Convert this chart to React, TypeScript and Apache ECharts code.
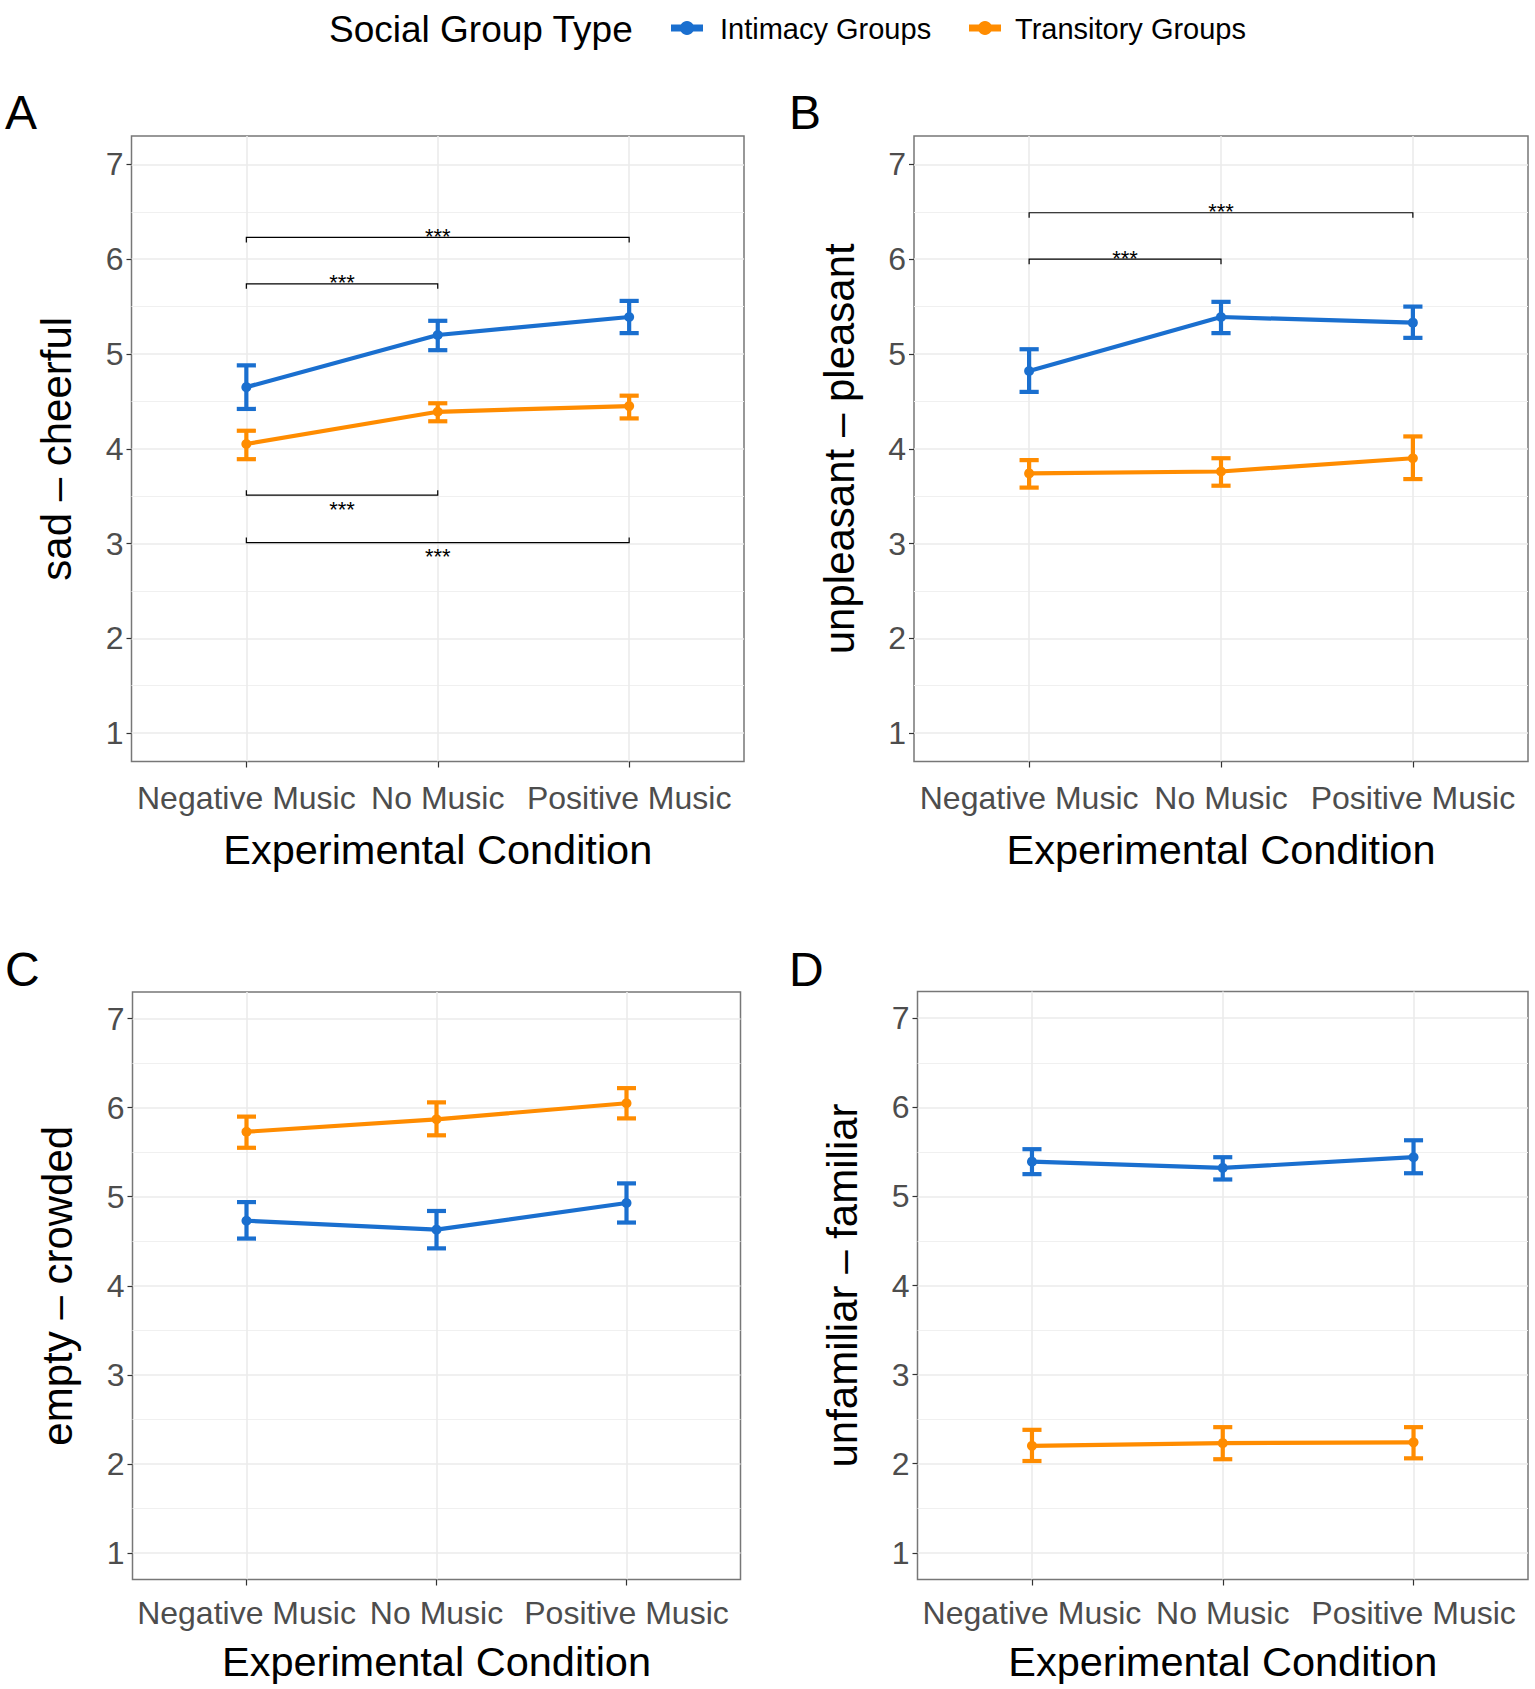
import React, { useEffect, useRef } from "react";
import * as echarts from "echarts";

// ---------- data ----------
const conditions = ["Negative Music", "No Music", "Positive Music"];
const positions = [1, 2, 3];
const yTicks = [1, 2, 3, 4, 5, 6, 7];
const yMinorTicks = [1.5, 2.5, 3.5, 4.5, 5.5, 6.5];
const groupNames = ["Intimacy Groups", "Transitory Groups"];
const panelLetters = ["A", "B", "C", "D"];
const yTitles = ["sad – cheerful", "unpleasant – pleasant", "empty – crowded", "unfamiliar – familiar"];

// Panel A
const aIntMean = [4.65, 5.2, 5.39];
const aIntLo = [4.42, 5.04, 5.22];
const aIntHi = [4.88, 5.35, 5.56];
const aTraMean = [4.05, 4.39, 4.45];
const aTraLo = [3.89, 4.29, 4.32];
const aTraHi = [4.19, 4.48, 4.56];
// [from, to, y, side]  side 1 = label above, -1 = label below
const aBrackets = [
  [1, 3, 6.23, 1],
  [1, 2, 5.74, 1],
  [1, 2, 3.51, -1],
  [1, 3, 3.01, -1],
];

// Panel B
const bIntMean = [4.82, 5.39, 5.33];
const bIntLo = [4.6, 5.22, 5.17];
const bIntHi = [5.05, 5.55, 5.5];
const bTraMean = [3.74, 3.76, 3.9];
const bTraLo = [3.59, 3.61, 3.68];
const bTraHi = [3.88, 3.9, 4.13];
const bBrackets = [
  [1, 3, 6.49, 1],
  [1, 2, 6.0, 1],
];

// Panel C
const cIntMean = [4.73, 4.63, 4.93];
const cIntLo = [4.53, 4.42, 4.71];
const cIntHi = [4.94, 4.84, 5.15];
const cTraMean = [5.73, 5.87, 6.05];
const cTraLo = [5.55, 5.69, 5.88];
const cTraHi = [5.9, 6.06, 6.22];
const cBrackets: number[][] = [];

// Panel D
const dIntMean = [5.39, 5.32, 5.44];
const dIntLo = [5.25, 5.19, 5.26];
const dIntHi = [5.53, 5.44, 5.63];
const dTraMean = [2.2, 2.23, 2.24];
const dTraLo = [2.03, 2.05, 2.06];
const dTraHi = [2.38, 2.41, 2.41];
const dBrackets: number[][] = [];

const sigLabel = "***";

const panelData = [
  { int: [aIntMean, aIntLo, aIntHi], tra: [aTraMean, aTraLo, aTraHi], brackets: aBrackets },
  { int: [bIntMean, bIntLo, bIntHi], tra: [bTraMean, bTraLo, bTraHi], brackets: bBrackets },
  { int: [cIntMean, cIntLo, cIntHi], tra: [cTraMean, cTraLo, cTraHi], brackets: cBrackets },
  { int: [dIntMean, dIntLo, dIntHi], tra: [dTraMean, dTraLo, dTraHi], brackets: dBrackets },
];

// ---------- layout / style ----------
const W = 1535;
const H = 1689;
const FONT = "'Liberation Sans', Arial, Helvetica, sans-serif";
const BLUE = "#1a6fcf";
const ORANGE = "#ff8c00";
const CAP = 0.05;

const layouts = [
  { left: 131.5, top: 136, width: 612.5, height: 625.5, labelMargin: 36, nameGap: 87.5, lx: 5, ly: 112 },
  { left: 914, top: 136, width: 614, height: 625.5, labelMargin: 36, nameGap: 87.5, lx: 789, ly: 112 },
  { left: 132.5, top: 992, width: 608, height: 587.5, labelMargin: 33, nameGap: 82, lx: 5, ly: 969 },
  { left: 917.5, top: 991.5, width: 610.5, height: 588, labelMargin: 33, nameGap: 82, lx: 789, ly: 969 },
];

function errorBarSeries(i: number, name: string, mean: number[], lo: number[], hi: number[], color: string) {
  return {
    type: "custom",
    name,
    xAxisIndex: i,
    yAxisIndex: 2 * i,
    z: 2,
    silent: true,
    data: positions.map((p, k) => [p, lo[k], hi[k]]),
    encode: { x: 0, y: [1, 2] },
    renderItem: (params: any, api: any) => {
      const x = api.value(0);
      const l = api.value(1);
      const h = api.value(2);
      const top = api.coord([x, h]);
      const bot = api.coord([x, l]);
      const xl = api.coord([x - CAP, h])[0];
      const xr = api.coord([x + CAP, h])[0];
      const style = { stroke: color, lineWidth: 4.2, fill: null };
      return {
        type: "group",
        children: [
          { type: "line", shape: { x1: top[0], y1: top[1], x2: bot[0], y2: bot[1] }, style },
          { type: "line", shape: { x1: xl, y1: top[1], x2: xr, y2: top[1] }, style },
          { type: "line", shape: { x1: xl, y1: bot[1], x2: xr, y2: bot[1] }, style },
        ],
      };
    },
  };
}

function lineSeries(i: number, name: string, mean: number[], color: string) {
  return {
    type: "line",
    name,
    xAxisIndex: i,
    yAxisIndex: 2 * i,
    z: 3,
    silent: true,
    data: positions.map((p, k) => [p, mean[k]]),
    symbol: "circle",
    symbolSize: 10,
    showSymbol: true,
    lineStyle: { color, width: 4.2 },
    itemStyle: { color },
  };
}

function bracketSeries(i: number, brackets: number[][]) {
  return {
    type: "custom",
    xAxisIndex: i,
    yAxisIndex: 2 * i,
    z: 4,
    silent: true,
    data: brackets,
    encode: { x: [0, 1], y: 2 },
    renderItem: (params: any, api: any) => {
      const x1 = api.value(0);
      const x2 = api.value(1);
      const y = api.value(2);
      const side = api.value(3);
      const p1 = api.coord([x1, y]);
      const p2 = api.coord([x2, y]);
      const tip = side > 0 ? 5 : -5;
      return {
        type: "group",
        children: [
          {
            type: "polyline",
            shape: {
              points: [
                [p1[0], p1[1] + tip],
                [p1[0], p1[1]],
                [p2[0], p2[1]],
                [p2[0], p2[1] + tip],
              ],
            },
            style: { stroke: "#000", lineWidth: 1.2, fill: null },
          },
          {
            type: "text",
            x: (p1[0] + p2[0]) / 2,
            y: side > 0 ? p1[1] - 1 : p1[1] + 14,
            style: {
              text: sigLabel,
              fontSize: 22,
              fontFamily: FONT,
              fill: "#000",
              align: "center",
              verticalAlign: "middle",
            },
          },
        ],
      };
    },
  };
}

function buildOption() {
  const grid: any[] = [];
  const xAxis: any[] = [];
  const yAxis: any[] = [];
  const series: any[] = [];
  const graphic: any[] = [];

  layouts.forEach((lay, i) => {
    grid.push({
      left: lay.left,
      top: lay.top,
      width: lay.width,
      height: lay.height,
      show: true,
      backgroundColor: "#fff",
      borderColor: "#777",
      borderWidth: 1.5,
      containLabel: false,
      outerBoundsMode: "none",
    });
    xAxis.push({
      type: "value",
      gridIndex: i,
      min: 0.4,
      max: 3.6,
      name: "Experimental Condition",
      nameLocation: "middle",
      nameGap: lay.nameGap,
      nameTextStyle: { fontSize: 41.5, color: "#000", fontFamily: FONT, verticalAlign: "middle" },
      axisLine: { show: false },
      axisTick: { show: true, length: 6, customValues: positions, lineStyle: { color: "#333", width: 1.2 } },
      axisLabel: {
        show: true,
        customValues: positions,
        margin: lay.labelMargin,
        verticalAlign: "middle",
        fontSize: 32,
        color: "#4d4d4d",
        fontFamily: FONT,
        formatter: (v: number) => conditions[Math.round(v) - 1] ?? "",
      },
      splitLine: { show: true, lineStyle: { color: "#ebebeb", width: 1.6 } },
    });
    yAxis.push({
      type: "value",
      gridIndex: i,
      min: 0.7,
      max: 7.3,
      name: yTitles[i],
      nameLocation: "middle",
      nameGap: 75,
      nameRotate: 90,
      nameTextStyle: { fontSize: 42, color: "#000", fontFamily: FONT, verticalAlign: "middle" },
      axisLine: { show: false },
      axisTick: { show: true, length: 5, customValues: yTicks, lineStyle: { color: "#333", width: 1.2 } },
      axisLabel: {
        show: true,
        customValues: yTicks,
        margin: 8,
        fontSize: 32,
        color: "#4d4d4d",
        fontFamily: FONT,
      },
      splitLine: { show: true, lineStyle: { color: "#ebebeb", width: 1.6 } },
    });
    yAxis.push({
      type: "value",
      gridIndex: i,
      min: 0.7,
      max: 7.3,
      axisLine: { show: false },
      axisTick: { show: false, customValues: yMinorTicks },
      axisLabel: { show: false, customValues: yMinorTicks },
      splitLine: { show: true, lineStyle: { color: "#f0f0f0", width: 1 } },
    });

    const d = panelData[i];
    series.push(lineSeries(i, groupNames[0], d.int[0], BLUE));
    series.push(lineSeries(i, groupNames[1], d.tra[0], ORANGE));
    series.push(errorBarSeries(i, groupNames[0], d.int[0], d.int[1], d.int[2], BLUE));
    series.push(errorBarSeries(i, groupNames[1], d.tra[0], d.tra[1], d.tra[2], ORANGE));
    if (d.brackets.length) series.push(bracketSeries(i, d.brackets));

    graphic.push({
      type: "text",
      x: lay.lx,
      y: lay.ly,
      style: { text: panelLetters[i], fontSize: 48, fontFamily: FONT, fill: "#000", verticalAlign: "middle", align: "left" },
    });
  });

  // legend
  graphic.push({
    type: "text",
    x: 329,
    y: 29,
    style: { text: "Social Group Type", fontSize: 37, fontFamily: FONT, fill: "#000", verticalAlign: "middle", align: "left" },
  });
  const legendItems = [
    { key: 671, text: 720, color: BLUE, name: groupNames[0] },
    { key: 969, text: 1015, color: ORANGE, name: groupNames[1] },
  ];
  legendItems.forEach((it) => {
    graphic.push({
      type: "line",
      shape: { x1: it.key, y1: 28, x2: it.key + 32, y2: 28 },
      style: { stroke: it.color, lineWidth: 7 },
    });
    graphic.push({
      type: "circle",
      shape: { cx: it.key + 16, cy: 28, r: 7 },
      style: { fill: it.color },
    });
    graphic.push({
      type: "text",
      x: it.text,
      y: 29,
      style: { text: it.name, fontSize: 29, fontFamily: FONT, fill: "#000", verticalAlign: "middle", align: "left" },
    });
  });

  return {
    animation: false,
    backgroundColor: "#fff",
    textStyle: { fontFamily: FONT },
    grid,
    xAxis,
    yAxis,
    series,
    graphic,
  };
}

export default function App() {
  const ref = useRef<HTMLDivElement>(null);
  useEffect(() => {
    if (!ref.current) return;
    const chart = echarts.init(ref.current, undefined, { renderer: "svg", width: W, height: H });
    chart.setOption(buildOption() as any);
    return () => chart.dispose();
  }, []);
  return (
    <div
      ref={ref}
      style={{ position: "absolute", left: 0, top: 0, width: W, height: H, background: "#fff" }}
    />
  );
}
